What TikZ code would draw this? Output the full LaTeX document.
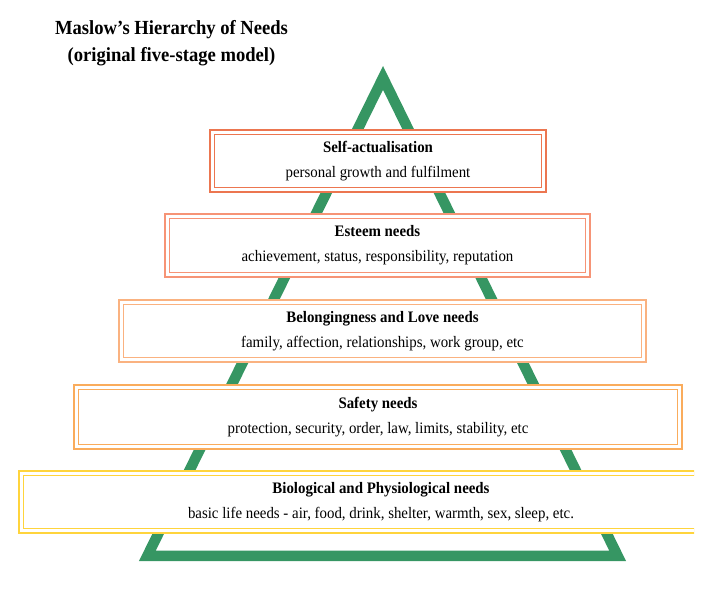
\documentclass[tikz,border=0pt]{standalone}
\usepackage{fontspec}
\setmainfont[FakeStretch=0.93]{Liberation Serif}
\usepackage{tikz}
\usetikzlibrary{positioning,calc}
\definecolor{pyrgreen}{RGB}{54,150,99}
\definecolor{selfcol}{RGB}{236,118,80}
\definecolor{esteemcol}{RGB}{246,148,118}
\definecolor{lovecol}{RGB}{250,178,128}
\definecolor{safecol}{RGB}{250,172,92}
\definecolor{biocol}{RGB}{255,212,60}
\tikzset{
	level/.style={rectangle, fill=white, line width=1.6pt, double=white, double distance=3pt,
		align=center, inner sep=0pt, minimum height=57.6pt, font=\fontsize{16}{25}\selectfont},
	heading/.style={align=center, inner sep=0pt, font=\bfseries\fontsize{20}{27}\selectfont},
	pyramid/.style={draw=pyrgreen, line width=10.5pt, miter limit=20}
}
\begin{document}
\begin{tikzpicture}[x=1pt, y=-1pt]
\useasboundingbox (0,0) rectangle (723,596);
\node[heading, anchor=base] (Title) at (171.5,62) {Maslow’s Hierarchy of Needs\\(original five-stage model)};

% green triangle behind the boxes
\coordinate (Top) at (383,77.9);
\coordinate (BaseL) at (147.4,555.75);
\coordinate (BaseR) at (617.6,555.75);
\draw[pyramid] (Top) -- (BaseL) -- (BaseR) -- cycle;

\node[level, draw=selfcol, minimum width=331.6pt] (Self) at (378,161) {\textbf{Self-actualisation}\\personal growth and fulfilment};
\node[level, draw=esteemcol, minimum width=420.6pt, minimum height=58.6pt] (Esteem) at (377.5,245.5) {\textbf{Esteem needs}\\achievement, status, responsibility, reputation};
\node[level, draw=lovecol, minimum width=522.6pt] (Love) at (382.5,331) {\textbf{Belongingness and Love needs}\\family, affection, relationships, work group, etc};
\node[level, draw=safecol, minimum width=603.6pt, minimum height=59.6pt] (Safety) at (378,417) {\textbf{Safety needs}\\protection, security, order, law, limits, stability, etc};
\begin{scope}
\clip (0,0) rectangle (694,596);
\node[level, draw=biocol, minimum width=719.6pt] (Bio) at (381,502) {\textbf{Biological and Physiological needs}\\basic life needs - air, food, drink, shelter, warmth, sex, sleep, etc.};
\end{scope}
\end{tikzpicture}
\end{document}
